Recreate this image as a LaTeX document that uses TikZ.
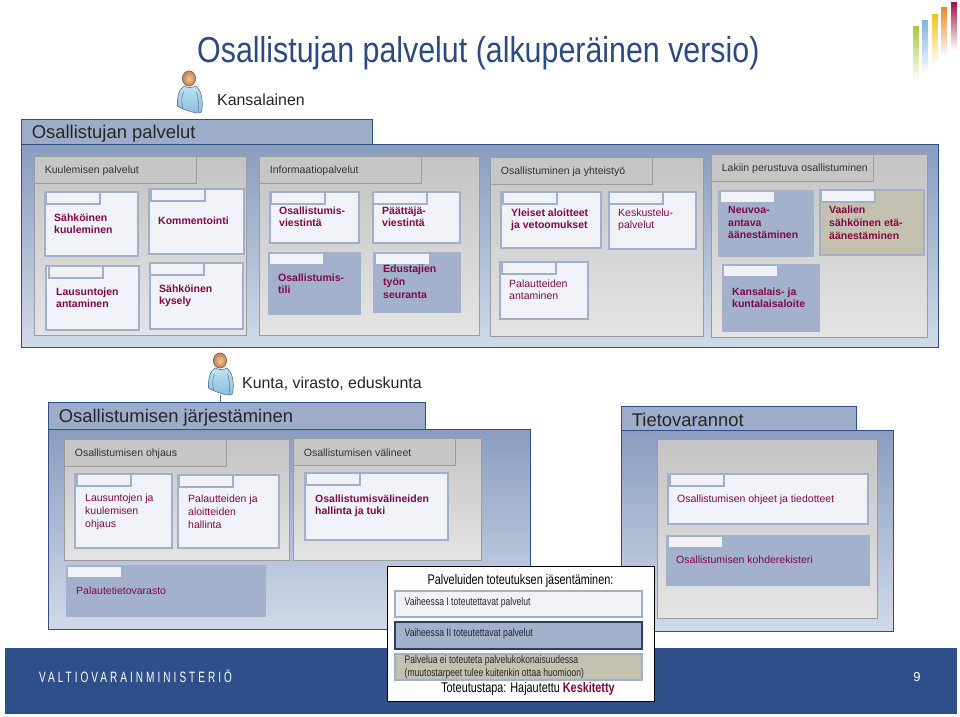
\documentclass[tikz,border=0pt]{standalone}
\usepackage{fontspec}
\setmainfont{Liberation Sans}
\usepackage{tikz}
\usetikzlibrary{positioning,calc,fadings,shadings}
\definecolor{VMBlue}{RGB}{47,79,138}
\definecolor{PanelTop}{RGB}{138,157,192}
\definecolor{PanelBot}{RGB}{208,218,233}
\definecolor{GreyTop}{RGB}{196,196,196}
\definecolor{GreyBot}{RGB}{228,228,228}
\definecolor{GreyLine}{RGB}{156,156,156}
\definecolor{TabGrey}{RGB}{198,198,198}
\definecolor{BoxLine}{RGB}{160,176,203}
\definecolor{BoxFill}{RGB}{240,242,248}
\definecolor{BoxBlue}{RGB}{163,177,205}
\definecolor{BoxSand}{RGB}{196,193,176}
\definecolor{Plum}{RGB}{125,10,70}
\definecolor{TitleBlue}{RGB}{45,74,128}
\definecolor{LogoGreen}{RGB}{168,200,58}
\definecolor{LogoBlue}{RGB}{128,178,226}
\definecolor{LogoYellow}{RGB}{242,194,30}
\definecolor{LogoOrange}{RGB}{232,138,44}
\definecolor{LogoRed}{RGB}{160,16,66}
\definecolor{SkinIn}{RGB}{240,200,150}
\definecolor{SkinOut}{RGB}{190,130,85}
\definecolor{ShirtIn}{RGB}{190,226,242}
\definecolor{ShirtOut}{RGB}{140,190,222}
\definecolor{ShirtLine}{RGB}{85,115,145}
\begin{document}
\begin{tikzpicture}[x=1pt,y=-1pt,
		plate/.style={anchor=north west, inner sep=0pt, outer sep=0pt, xshift=.7pt, yshift=-.7pt},
		area/.style={plate, draw=VMBlue, line width=1.5pt, top color=PanelTop, bottom color=PanelBot},
		areatab/.style={plate, draw=VMBlue, line width=1.5pt, fill=PanelTop!85!white},
		group/.style={plate, draw=GreyLine, line width=1.1pt, top color=GreyTop, bottom color=GreyBot},
		grouptab/.style={plate, draw=GreyLine, line width=1.1pt, fill=TabGrey},
		svc/.style={plate, draw=BoxLine, line width=2pt, fill=BoxFill},
		svcblue/.style={svc, fill=BoxBlue},
		svcsand/.style={svc, fill=BoxSand},
		flap/.style={plate, draw=BoxLine, line width=2pt, fill=BoxFill},
		flapplain/.style={flap, draw=none},
		head/.style={anchor=west, inner sep=0pt, font=\fontsize{18.4}{21}\selectfont, text=black!85},
		who/.style={anchor=west, inner sep=0pt, font=\fontsize{15.9}{18}\selectfont, text=black!85},
		grouptxt/.style={anchor=west, inner sep=0pt, yshift=-1pt, font=\fontsize{10.5}{12}\selectfont, text=black!80},
		svctxt/.style={anchor=west, align=left, inner sep=0pt, yshift=-.8pt, font=\fontsize{10.5}{12.6}\selectfont, text=Plum},
		svcbold/.style={svctxt, font=\fontsize{10.5}{12.6}\selectfont\bfseries},
		narrow/.style={anchor=west, inner sep=0pt, align=left, yshift=-.8pt, text=black!85, font=\fontsize{11}{13}\selectfont, xscale=.78},
		keyline/.style={inner sep=0pt, yshift=-.8pt, text=black, font=\fontsize{14}{16}\selectfont, xscale=.775},
		person/.pic={
			\draw[draw=ShirtLine, line width=.6pt, top color=ShirtIn, bottom color=ShirtOut]
				(-6,-3) .. controls (-11,0) and (-13,8) .. (-12.5,17) .. controls (-8,20) and (3,24) .. (9,24)
				.. controls (11,24) and (12,23) .. (12,20) .. controls (13,10) and (11,1) .. (6,-3)
				.. controls (3,-1) and (-3,-1) .. (-6,-3) -- cycle;
			\draw[ShirtLine, line width=.5pt] (-7.5,19) .. controls (-9,12) and (-8,6) .. (-6.5,3);
			\draw[ShirtLine, line width=.5pt] (8,23) .. controls (9,14) and (8,7) .. (6.5,3);
			\draw[draw=SkinOut!70!black, line width=.6pt, inner color=SkinIn, outer color=SkinOut] (-1,-10.5) ellipse (6.6 and 7.6);
		}
		]
		
		\useasboundingbox (0,0) rectangle (960,716);
		\fill[white] (0,0) rectangle (960,716);
		
		% ===== logo =====
		\foreach \n/\x/\ya/\h/\c in {a/912.7/26/54/LogoGreen, b/922/20/54/LogoBlue, c/931.6/13.5/52/LogoYellow, d/941/7/50/LogoOrange, e/950.3/1.5/48/LogoRed}{
			\node[fill=\c, path fading=south, minimum width=6.2pt, minimum height=\h pt, inner sep=0pt, anchor=north west] (logo\n) at (\x,\ya) {};
		}
		
		% ===== otsikko =====
		\node[anchor=west, inner sep=0pt, text=TitleBlue, font=\fontsize{36}{40}\selectfont, xscale=.844] (title) at (197,53) {Osallistujan palvelut (alkuperäinen versio)};
		
		% ===== alaosan palkki =====
		\node[fill=VMBlue, minimum width=952pt, minimum height=66pt, inner sep=0pt, anchor=north west] (footer) at (5,648) {};
		\node[anchor=west, inner sep=0pt, text=white, font=\fontsize{15}{17}\selectfont\addfontfeatures{LetterSpace=30}, xscale=.67] (vm) at (39,676) {VALTIOVARAINMINISTERIÖ};
		\node[text=white, font=\fontsize{13}{15}\selectfont] (page) at (917,677) {9};
		
		% ===== henkilot =====
		\pic at (190,89) {person};
		\node[who] (citizen) at (217,100) {Kansalainen};
		\coordinate (pfoot) at (220,395);
		\pic at (221,371) {person};
		\node[who] (muni) at (242,384) {Kunta, virasto, eduskunta};
		
		% ===== paalaatikot =====
		\foreach \n/\x/\y/\w/\h/\tw/\th/\t in {
			oa/21/144/917/203/351/25/Osallistujan palvelut,
			ob/48/429/482/200/377/27/Osallistumisen järjestäminen,
			oc/621/430/272/201/235/24/Tietovarannot}{
			\node[area, minimum width=\w pt, minimum height=\h pt] (\n) at (\x,\y) {};
			\node[areatab, minimum width=\tw pt, minimum height=\th pt] (\n tab) at (\x,\y-\th) {};
			\node[head] at ($(\n tab.west)+(10,1.5)$) {\t};
		}
		\draw[ShirtLine, line width=1pt] (pfoot) -- (obtab.north -| pfoot);
		
		% ===== harmaat ryhmat =====
		\foreach \n/\x/\y/\w/\h/\t in {
			ga/34/156/212/179/Kuulemisen palvelut,
			gb/259/156/220/179/Informaatiopalvelut,
			gc/490/157/213/179/Osallistuminen ja yhteistyö,
			gd/711/154/216/183/Lakiin perustuva osallistuminen,
			ge/64/439/225/121/Osallistumisen ohjaus,
			gf/293/438/188/122/Osallistumisen välineet}{
			\node[group, minimum width=\w pt, minimum height=\h pt] (\n) at (\x,\y) {};
			\node[grouptab, minimum width=162pt, minimum height=27pt] (\n tab) at (\x,\y) {};
			\node[grouptxt] at ($(\n tab.west)+(10,0)$) {\t};
		}
		\node[group, minimum width=220pt, minimum height=179pt] (gg) at (657,439) {};
		
		% ===== palvelut, joissa reunustettu kieleke =====
		\foreach \n/\s/\x/\y/\w/\h/\f in {
			sa/svc/44/191/93/64/1,
			sb/svc/148/188/95/65/2,
			sc/svc/45/265/93/64/3,
			sd/svc/149/262/93/66/0,
			se/svc/269/191/89/51/1,
			sf/svc/372/191/87/51/0,
			sg/svc/500/191/100/56/2,
			sh/svc/608/191/87/57/0,
			si/svc/499/261/88/57/2,
			sj/svcsand/819/189/104/65/1,
			sk/svc/74/473/97/74/2,
			sl/svc/177/474/101/73/1,
			sm/svc/304/472/143/67/1,
			sn/svc/667/473/200/50/2}{
			\node[\s, minimum width=\w pt, minimum height=\h pt] (\n) at (\x,\y) {};
			\node[flap, minimum width=54pt, minimum height=12.5pt] (\n flap) at (\x+\f,\y) {};
		}
		
		% ===== palvelut, joissa valkoinen kieleke =====
		\foreach \n/\x/\y/\w/\h/\d in {
			ta/267/251/93/63/2,
			tb/372/251/88/61/3,
			tc/717/189/96/67/3,
			td/721/263/98/68/2,
			te/65/564/200/52/2,
			tf/665/534/204/51/3}{
			\node[svcblue, draw=none, minimum width=\w pt, minimum height=\h pt] (\n) at (\x,\y) {};
			\node[flapplain, minimum width=53pt, minimum height=10pt] (\n flap) at (\x+\d,\y+2) {};
		}
		
		% ===== tekstit =====
		\foreach \x/\y/\t in {
			54/223/{Sähköinen\\kuuleminen},
			158/220/{Kommentointi},
			56/297/{Lausuntojen\\antaminen},
			159/295/{Sähköinen\\kysely},
			279/216/{Osallistumis-\\viestintä},
			382/216/{Päättäjä-\\viestintä},
			278/283/{Osallistumis-\\tili},
			383/281/{Edustajien\\työn\\seuranta},
			511/219/{Yleiset aloitteet\\ja vetoomukset},
			728/222/{Neuvoa-\\antava\\äänestäminen},
			829/222/{Vaalien\\sähköinen etä-\\äänestäminen},
			732/297/{Kansalais- ja\\kuntalaisaloite},
			315/505/{Osallistumisvälineiden\\hallinta ja tuki}}{
			\node[svcbold] at (\x,\y) {\t};
		}
		\foreach \x/\y/\t in {
			618/219/{Keskustelu-\\palvelut},
			509/289/{Palautteiden\\antaminen},
			85/511/{Lausuntojen ja\\kuulemisen\\ohjaus},
			188/511/{Palautteiden ja\\aloitteiden\\hallinta},
			76/590/{Palautetietovarasto},
			677/499/{Osallistumisen ohjeet ja tiedotteet},
			676/559/{Osallistumisen kohderekisteri}}{
			\node[svctxt] at (\x,\y) {\t};
		}
		
		% ===== selite =====
		\node[draw=black, line width=1pt, fill=white, minimum width=267pt, minimum height=135pt, inner sep=0pt, outer sep=0pt, anchor=north west] (key) at (387,566) {};
		\node[keyline] (keytitle) at (520.5,580) {Palveluiden toteutuksen jäsentäminen:};
		\node[svc, minimum width=247pt, minimum height=26pt] (keya) at (394,590) {};
		\node[svcblue, draw=VMBlue!80!black, line width=2pt, minimum width=247pt, minimum height=27pt] (keyb) at (394,621) {};
		\node[svcsand, minimum width=247pt, minimum height=26pt] (keyc) at (394,653) {};
		\node[narrow] (keyat) at (404.5,602) {Vaiheessa I toteutettavat palvelut};
		\node[narrow] (keybt) at (404.5,633) {Vaiheessa II toteutettavat palvelut};
		\node[narrow] (keyct) at (404.5,666.5) {Palvelua ei toteuteta palvelukokonaisuudessa\\(muutostarpeet tulee kuitenkin ottaa huomioon)};
		\node[keyline] (keyend) at (528,688) {Toteutustapa: Hajautettu \textcolor{Plum}{\bfseries Keskitetty}};
		
	\end{tikzpicture}
\end{document}
